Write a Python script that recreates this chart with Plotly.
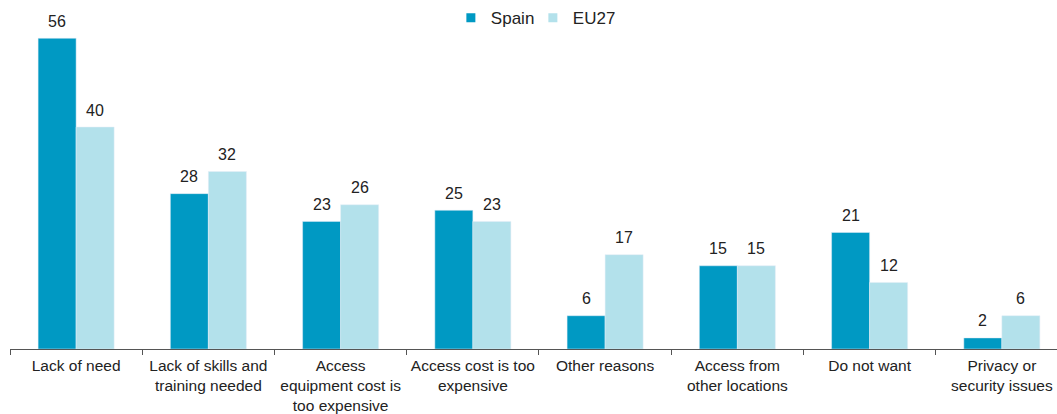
import plotly.graph_objects as go

categories = ["Lack of need", "Lack of skills and<br>training needed",
              "Access<br>equipment cost is<br>too expensive", "Access cost is too<br>expensive",
              "Other reasons", "Access from<br>other locations", "Do not want",
              "Privacy or<br>security issues"]
spain = [56, 28, 23, 25, 6, 15, 21, 2]
eu27 = [40, 32, 26, 23, 17, 15, 12, 6]

SPAIN_C = "#0099C3"
EU_C = "#B3E1EB"
font = "Liberation Sans, Arial, sans-serif"
fig = go.Figure()
fig.add_trace(go.Bar(x=categories, y=spain, name="Spain", marker_color=SPAIN_C, showlegend=False))
fig.add_trace(go.Bar(x=categories, y=eu27, name="EU27", marker_color=EU_C, showlegend=False))
# legend entries with small square symbols
for name, col in [("Spain", SPAIN_C), ("EU27", EU_C)]:
    fig.add_trace(go.Scatter(x=[None], y=[None], mode="markers", name=name,
                             marker=dict(symbol="square", size=9, color=col)))

annotations = []
for cat, s, e in zip(categories, spain, eu27):
    for v, dx in [(s, -19), (e, 19)]:
        annotations.append(dict(x=cat, y=v, text=str(v), showarrow=False, xshift=dx,
                                yshift=17, yanchor="middle",
                                font=dict(size=16, color="#222", family=font)))

fig.update_layout(
    width=1057, height=414, barmode="group", bargap=0.425, bargroupgap=0,
    margin=dict(l=10, r=0, t=0, b=65),
    plot_bgcolor="white", paper_bgcolor="white",
    font=dict(family=font, size=16, color="#222"),
    legend=dict(orientation="h", x=0.4994, xanchor="center", y=0.948, yanchor="middle",
                font=dict(size=17), itemwidth=30, bgcolor="rgba(0,0,0,0)",
                tracegroupgap=0, entrywidth=37, entrywidthmode="pixels"),
    annotations=annotations,
    xaxis=dict(showline=True, linecolor="#555", linewidth=1, ticks="outside",
               tickson="boundaries", ticklen=5, tickcolor="#555", tickangle=0,
               automargin=False, ticklabelstandoff=2,
               range=[-0.5, 7.417], tickfont=dict(size=15.5, color="#222")),
    yaxis=dict(visible=False, range=[0, 62.9], automargin=False),
)
fig.write_html("out.html")
